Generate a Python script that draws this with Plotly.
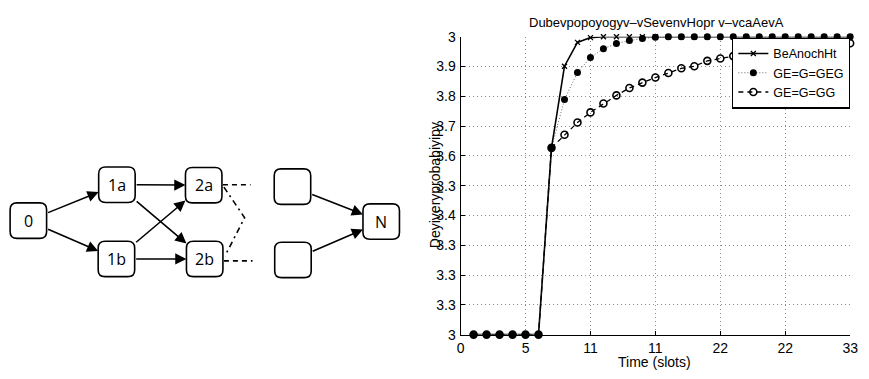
import plotly.graph_objects as go

# ---------------- data ----------------
slots = [1, 2, 3, 4, 5, 6, 7, 8, 9, 10, 11, 12, 13, 14, 15,
         16, 17, 18, 19, 20, 21, 22, 23, 24, 25, 26, 27, 28, 29, 30]
series_a = [0, 0, 0, 0, 0, 0, 0.627, 0.901, 0.981, 0.997, 1.0, 1.0, 1.0, 1.0, 1.0,
            1.0, 1.0, 1.0, 1.0, 1.0, 1.0, 1.0, 1.0, 1.0, 1.0, 1.0, 1.0, 1.0, 1.0, 1.0]
series_b = [0, 0, 0, 0, 0, 0, 0.627, 0.789, 0.880, 0.930, 0.960, 0.977, 0.987, 0.994, 0.998,
            1.0, 1.0, 1.0, 1.0, 1.0, 1.0, 1.0, 1.0, 1.0, 1.0, 1.0, 1.0, 1.0, 1.0, 1.0]
series_c = [0, 0, 0, 0, 0, 0, 0.627, 0.671, 0.712, 0.746, 0.776, 0.803, 0.828, 0.846, 0.863,
            0.878, 0.894, 0.901, 0.919, 0.927, 0.935, 0.941, 0.947, 0.952, 0.957, 0.962, 0.966,
            0.970, 0.974, 0.978]
series_names = ["BeAnochHt", "GE=G=GEG", "GE=G=GG"]

x_tickvals = [0, 5, 10, 15, 20, 25, 30]
x_ticktext = ["0", "5", "11", "11", "22", "22", "33"]
y_tickvals = [0, 0.1, 0.2, 0.3, 0.4, 0.5, 0.6, 0.7, 0.8, 0.9, 1.0]
y_ticktext = ["3", "3.3", "3.3", "3.3", "3.4", "3.3", "3.6", "3.7", "3.8", "3.9", "3"]

title_text = "Dubevpopoyogyv\u2013vSevenvHopr v\u2013vcaAevA"
x_title = "Time (slots)"
y_title = "Deyiveryprobabiyipy"

# diagram definition (node labels and arrows)
node_labels = ["0", "1a", "1b", "2a", "2b", "", "", "N"]
node_centers = {  # layout positions in page pixels
    0: (24.7, 222), 1: (114.5, 184.5), 2: (114, 262), 3: (202.5, 185),
    4: (203.5, 262), 5: (292.5, 186.5), 6: (293, 263), 7: (382.5, 223),
}
edges = [(0, 1), (0, 2), (1, 3), (1, 4), (2, 3), (2, 4), (5, 7), (6, 7)]

W, H = 869, 379
FONT = "Liberation Sans, Arial, sans-serif"

fig = go.Figure()

fig.add_trace(go.Scatter(
    x=slots, y=series_a, name=series_names[0], mode="lines+markers",
    line=dict(color="black", width=1.6),
    marker=dict(symbol="x-thin", size=5, color="black", line=dict(width=1.3, color="black")),
    cliponaxis=False))
fig.add_trace(go.Scatter(
    x=slots, y=series_b, name=series_names[1], mode="lines+markers",
    line=dict(color="rgba(60,60,60,0.8)", width=1, dash="1px,2px"),
    marker=dict(symbol="circle", size=7, color="black"),
    cliponaxis=False))
fig.add_trace(go.Scatter(
    x=slots, y=series_c, name=series_names[2], mode="lines+markers",
    line=dict(color="black", width=1.3, dash="5px,4px"),
    marker=dict(symbol="circle-open", size=7, color="black", line=dict(width=1.6, color="black")),
    cliponaxis=False))

# invisible pixel-space overlay for the diagram
fig.add_trace(go.Scatter(x=[None], y=[None], xaxis="x2", yaxis="y2", showlegend=False))

shapes = []
annotations = []

def rrect(cx, cy, w=37, h=37, r=7):
    x0, x1 = cx - w / 2, cx + w / 2
    y0, y1 = cy - h / 2, cy + h / 2
    return (f"M {x0+r},{y0} L {x1-r},{y0} Q {x1},{y0} {x1},{y0+r} "
            f"L {x1},{y1-r} Q {x1},{y1} {x1-r},{y1} L {x0+r},{y1} "
            f"Q {x0},{y1} {x0},{y1-r} L {x0},{y0+r} Q {x0},{y0} {x0+r},{y0} Z")

for i, lab in enumerate(node_labels):
    cx, cy = node_centers[i]
    shapes.append(dict(type="path", path=rrect(cx, cy), xref="x2", yref="y2",
                       line=dict(color="black", width=1.6), fillcolor="white"))
    if lab:
        annotations.append(dict(x=cx, y=cy, xref="x2", yref="y2", text=lab, showarrow=False,
                                font=dict(family="Open Sans, sans-serif", size=16, color="black")))

HALF = 18.5
def edge_points(a, b):
    (ax_, ay_), (bx, by) = node_centers[a], node_centers[b]
    dx, dy = bx - ax_, by - ay_
    t0 = HALF / abs(dx)
    sx, sy = ax_ + dx * t0, ay_ + dy * t0
    ex, ey = bx - dx * t0, by - dy * t0
    return sx, sy, ex, ey

for a, b in edges:
    sx, sy, ex, ey = edge_points(a, b)
    annotations.append(dict(x=ex, y=ey, ax=sx, ay=sy, xref="x2", yref="y2",
                            axref="x2", ayref="y2", showarrow=True, text="",
                            arrowhead=2, arrowsize=1.4, arrowwidth=1.6,
                            arrowcolor="black", standoff=0, startstandoff=0))

# dashed continuation lines
shapes.append(dict(type="line", xref="x2", yref="y2", x0=222, y0=184.5, x1=250, y1=184.5,
                   line=dict(color="black", width=1.6, dash="5px,4px")))
shapes.append(dict(type="line", xref="x2", yref="y2", x0=223, y0=264, x1=252, y1=264,
                   line=dict(color="black", width=1.6, dash="5px,4px")))
shapes.append(dict(type="path", xref="x2", yref="y2",
                   path="M 223,187 L 244,219 L 224,259",
                   line=dict(color="black", width=1.6, dash="6px,4px,2px,4px")))

# chart text
annotations.append(dict(x=662, y=15, xref="x2", yref="y2", text=title_text, showarrow=False,
                        font=dict(family=FONT, size=13, color="black")))
annotations.append(dict(x=660, y=370, xref="x2", yref="y2", text=x_title, showarrow=False,
                        font=dict(family=FONT, size=14, color="black")))
annotations.append(dict(x=437, y=185, xref="x2", yref="y2", text=y_title, showarrow=False,
                        textangle=-90, font=dict(family=FONT, size=14, color="black")))

x_dom = [463 / W, 858 / W]
y_dom = [1 - 341 / H, 1 - 30 / H]

grid = dict(showgrid=True, gridcolor="rgba(0,0,0,0.45)", griddash="1px,3px", gridwidth=1,
            zeroline=False, showline=True, linecolor="black", linewidth=1.2,
            ticks="inside", ticklen=4, tickcolor="black",
            tickfont=dict(family=FONT, size=14, color="black"))

fig.update_layout(
    width=W, height=H, margin=dict(l=0, r=0, t=0, b=0),
    paper_bgcolor="white", plot_bgcolor="rgba(0,0,0,0)",
    font=dict(family=FONT, size=13, color="black"),
    xaxis=dict(domain=x_dom, range=[0, 30], tickvals=x_tickvals, ticktext=x_ticktext,
               anchor="y", **grid),
    yaxis=dict(domain=y_dom, range=[0, 1], tickvals=y_tickvals, ticktext=y_ticktext,
               anchor="x", ticklabelstandoff=1, **grid),
    xaxis2=dict(domain=[0, 1], range=[0, W], visible=False, anchor="y2"),
    yaxis2=dict(domain=[0, 1], range=[H, 0], visible=False, anchor="x2"),
    legend=dict(x=858 / W, y=1 - 31 / H, xanchor="right", yanchor="top",
                bgcolor="white", bordercolor="black", borderwidth=1.2,
                font=dict(family=FONT, size=12.5, color="black"),
                itemwidth=30, tracegroupgap=0),
    shapes=shapes, annotations=annotations, showlegend=True,
)

fig.write_html("out.html")
